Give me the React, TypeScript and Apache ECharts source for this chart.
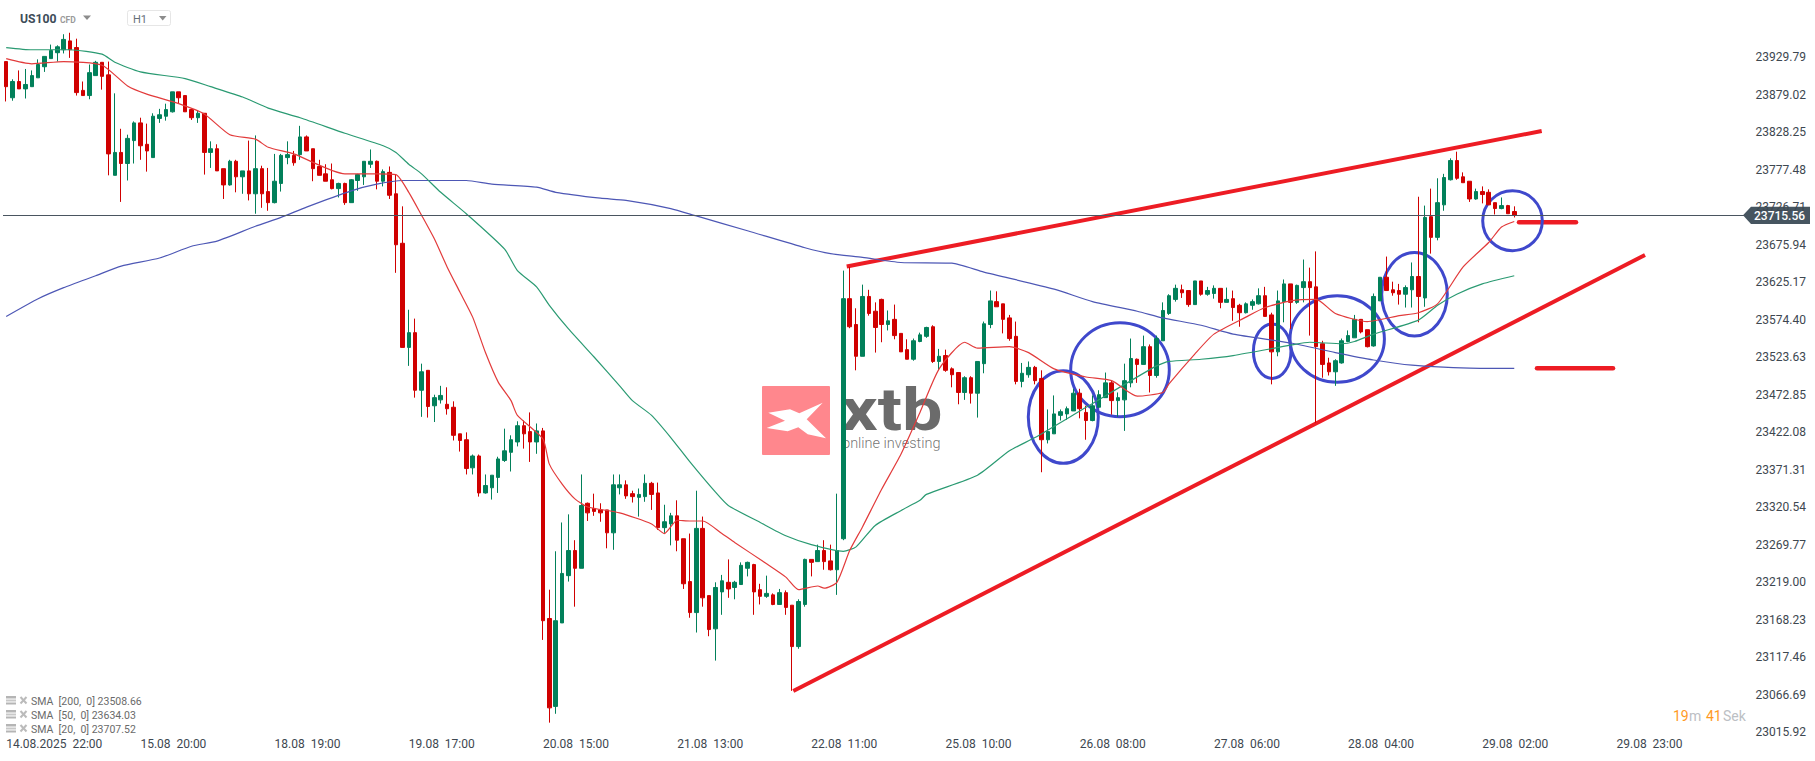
import React, { useEffect, useRef } from "react";
import * as echarts from "echarts";

const FONT = "Roboto";
const LAST_PRICE = 23715.56;
const FUTURE_SLOTS = 36;
const TICK_EVERY = 21;

const xTickLabels = [
  "14.08.2025  22:00", "15.08  20:00", "18.08  19:00", "19.08  17:00", "20.08  15:00",
  "21.08  13:00", "22.08  11:00", "25.08  10:00", "26.08  08:00", "27.08  06:00",
  "28.08  04:00", "29.08  02:00", "29.08  23:00",
];

const yTicks = [
  23929.79, 23879.02, 23828.25, 23777.48, 23726.71, 23675.94, 23625.17, 23574.4, 23523.63, 23472.85,
  23422.08, 23371.31, 23320.54, 23269.77, 23219.0, 23168.23, 23117.46, 23066.69, 23015.92,
];

// open, close, low, high
const ohlc = [
  [23924,23890,23870,23924],[23875,23897,23871,23900],[23897,23887,23887,23912],[23887,23893,23874,23914],
  [23890,23905,23890,23912],[23902,23920,23902,23927],[23917,23931,23910,23931],[23928,23939,23928,23947],
  [23936,23944,23924,23946],[23940,23954,23935,23961],[23952,23940,23929,23963],[23943,23882,23878,23955],
  [23885,23878,23878,23897],[23878,23909,23873,23920],[23905,23923,23905,23925],[23923,23904,23886,23923],
  [23906,23799,23770,23924],[23770,23801,23770,23881],[23801,23786,23734,23833],[23786,23820,23763,23825],
  [23817,23841,23786,23843],[23841,23810,23791,23848],[23812,23803,23775,23840],[23794,23850,23794,23854],
  [23847,23852,23841,23860],[23850,23859,23844,23867],[23856,23883,23855,23883],[23883,23875,23867,23883],
  [23878,23856,23856,23878],[23859,23848,23845,23860],[23848,23854,23841,23858],[23854,23801,23771,23854],
  [23801,23806,23780,23816],[23806,23776,23776,23812],[23779,23757,23738,23779],[23757,23789,23756,23791],
  [23789,23768,23747,23791],[23768,23776,23745,23776],[23776,23745,23736,23817],[23745,23779,23718,23824],
  [23779,23745,23726,23783],[23748,23733,23722,23780],[23733,23762,23732,23799],[23759,23797,23748,23799],
  [23794,23798,23785,23816],[23797,23787,23783,23803],[23798,23822,23791,23837],[23822,23803,23803,23824],
  [23806,23779,23762,23806],[23782,23770,23770,23791],[23772,23762,23762,23785],[23764,23752,23751,23786],
  [23752,23759,23740,23760],[23759,23733,23730,23760],[23733,23764,23733,23765],[23763,23771,23749,23772],
  [23768,23789,23757,23789],[23785,23789,23780,23805],[23789,23762,23751,23790],[23762,23775,23755,23778],
  [23774,23743,23738,23782],[23745,23676,23638,23771],[23678,23537,23537,23728],[23537,23557,23512,23588],
  [23557,23479,23469,23576],[23479,23504,23443,23515],[23506,23457,23442,23506],[23458,23469,23436,23473],
  [23466,23472,23461,23485],[23460,23454,23446,23483],[23456,23418,23411,23464],[23420,23411,23396,23420],
  [23412,23373,23365,23422],[23374,23390,23365,23392],[23390,23340,23335,23392],[23340,23350,23339,23365],
  [23347,23364,23331,23364],[23361,23386,23340,23389],[23384,23397,23382,23427],[23395,23412,23369,23418],
  [23409,23431,23403,23437],[23431,23420,23400,23438],[23423,23409,23382,23449],[23409,23424,23393,23434],
  [23424,23167,23141,23428],[23170,23049,23029,23209],[23051,23167,23041,23261],[23164,23231,23164,23300],
  [23228,23262,23220,23311],[23262,23238,23186,23276],[23238,23323,23238,23365],[23326,23313,23302,23327],
  [23319,23315,23309,23339],[23317,23313,23301,23326],[23317,23286,23265,23317],[23286,23351,23263,23365],
  [23347,23351,23338,23365],[23351,23336,23332,23357],[23339,23335,23327,23343],[23334,23338,23308,23346],
  [23335,23353,23328,23365],[23353,23338,23317,23355],[23340,23293,23290,23354],[23293,23301,23286,23324],
  [23298,23309,23269,23313],[23309,23276,23261,23330],[23278,23217,23210,23278],[23220,23178,23171,23285],
  [23178,23292,23151,23343],[23292,23198,23186,23308],[23201,23155,23146,23201],[23156,23212,23113,23219],
  [23206,23221,23175,23229],[23219,23210,23198,23250],[23212,23219,23196,23221],[23216,23242,23216,23246],
  [23238,23246,23227,23247],[23243,23206,23175,23244],[23209,23200,23189,23217],[23200,23204,23198,23228],
  [23202,23189,23188,23204],[23189,23205,23189,23210],[23205,23185,23175,23208],[23188,23132,23072,23188],
  [23132,23193,23129,23196],[23189,23250,23186,23251],[23250,23246,23227,23250],[23247,23262,23247,23270],
  [23262,23247,23236,23276],[23248,23236,23235,23270],[23236,23262,23202,23339],[23278,23603,23276,23641],
  [23603,23565,23563,23646],[23568,23525,23506,23590],[23525,23606,23525,23622],[23606,23583,23580,23615],
  [23586,23564,23530,23598],[23602,23568,23544,23603],[23568,23573,23560,23587],[23575,23553,23548,23595],
  [23556,23531,23531,23556],[23534,23521,23521,23548],[23521,23546,23519,23549],[23545,23554,23544,23557],
  [23552,23564,23550,23565],[23565,23518,23516,23567],[23518,23525,23506,23535],[23526,23506,23504,23534],
  [23508,23500,23483,23510],[23503,23476,23460,23503],[23476,23496,23466,23498],[23496,23475,23461,23498],
  [23475,23518,23442,23518],[23515,23569,23502,23572],[23568,23600,23563,23614],[23599,23592,23592,23613],
  [23596,23575,23556,23596],[23577,23549,23546,23581],[23552,23491,23487,23572],[23491,23502,23483,23516],
  [23500,23510,23496,23518],[23510,23492,23487,23512],[23495,23412,23368,23506],[23412,23423,23407,23453],
  [23420,23447,23420,23472],[23445,23450,23438,23453],[23447,23454,23439,23457],[23451,23475,23451,23481],
  [23475,23454,23441,23481],[23449,23438,23412,23458],[23438,23458,23437,23472],[23456,23473,23456,23479],
  [23469,23489,23469,23503],[23489,23465,23446,23492],[23465,23469,23443,23476],[23466,23492,23424,23515],
  [23489,23522,23483,23549],[23521,23514,23489,23522],[23514,23538,23514,23553],[23538,23499,23476,23541],
  [23499,23549,23496,23553],[23546,23587,23546,23598],[23583,23607,23581,23609],[23602,23617,23599,23622],
  [23615,23611,23604,23622],[23614,23595,23592,23614],[23595,23627,23595,23627],[23627,23609,23607,23627],
  [23609,23614,23607,23619],[23610,23617,23603,23621],[23617,23598,23590,23617],[23598,23602,23598,23618],
  [23603,23591,23573,23614],[23594,23584,23565,23596],[23584,23596,23583,23598],[23594,23599,23588,23602],
  [23596,23607,23595,23617],[23607,23579,23579,23619],[23581,23531,23487,23584],[23531,23600,23525,23614],
  [23599,23623,23571,23629],[23623,23598,23562,23623],[23598,23621,23596,23622],[23618,23626,23598,23656],
  [23626,23618,23553,23645],[23619,23538,23435,23667],[23542,23514,23496,23546],[23516,23504,23499,23523],
  [23504,23519,23485,23521],[23516,23546,23515,23549],[23545,23553,23544,23560],[23550,23575,23550,23581],
  [23575,23558,23556,23575],[23561,23538,23537,23561],[23539,23606,23538,23610],[23600,23632,23600,23632],
  [23632,23614,23614,23660],[23615,23611,23607,23626],[23614,23609,23595,23623],[23609,23618,23591,23621],
  [23615,23633,23591,23652],[23633,23606,23571,23741],[23604,23713,23592,23729],[23714,23686,23664,23752],
  [23686,23733,23682,23766],[23730,23767,23722,23772],[23764,23790,23763,23793],[23790,23766,23764,23802],
  [23768,23760,23760,23774],[23762,23738,23734,23762],[23738,23748,23737,23752],[23748,23744,23732,23755],
  [23747,23730,23730,23751],[23733,23725,23717,23733],[23725,23729,23724,23740],[23729,23718,23718,23730],
  [23721,23715.56,23713,23728],
];

// candle index, average value (read where the line bends)
const sma20 = [
  [0,23928],[4,23921],[9,23924],[15,23919],[19,23891],[22,23880],[27,23867],[31,23853],[35,23825],[39,23819],
  [41,23808],[45,23799],[53,23772],[58,23772],[61,23771],[63,23747],[65,23716],[67,23684],[69,23646],[71,23612],
  [73,23578],[75,23530],[77,23490],[79,23465],[80,23445],[84,23413],[85,23379],[87,23352],[89,23332],[91,23321],
  [96,23313],[101,23298],[103,23285],[105,23303],[107,23302],[109,23302],[112,23285],[114,23273],[119,23244],
  [122,23226],[124,23209],[127,23214],[128,23211],[130,23219],[132,23262],[134,23294],[137,23345],[140,23392],
  [143,23449],[146,23508],[150,23544],[152,23536],[157,23538],[160,23530],[164,23508],[169,23497],[173,23492],
  [177,23471],[181,23476],[182,23488],[186,23528],[189,23555],[194,23578],[197,23591],[201,23600],[205,23602],
  [208,23583],[213,23572],[218,23580],[221,23584],[224,23596],[228,23646],[232,23679],[234,23700],[236,23707.52],
];
const sma50 = [
  [0,23943],[4,23940],[10,23940],[15,23934],[17,23923],[21,23910],[28,23901],[32,23890],[37,23876],[41,23861],
  [46,23848],[53,23827],[59,23810],[61,23801],[63,23785],[65,23772],[68,23747],[72,23718],[78,23670],[80,23641],
  [83,23619],[85,23594],[88,23562],[92,23524],[96,23485],[98,23465],[101,23445],[104,23415],[107,23382],[111,23341],
  [113,23323],[118,23300],[122,23282],[126,23270],[131,23261],[133,23267],[136,23296],[140,23316],[143,23330],
  [144,23338],[152,23364],[157,23397],[161,23415],[169,23456],[180,23512],[182,23518],[187,23521],[192,23526],
  [201,23540],[204,23544],[209,23542],[211,23545],[214,23555],[221,23574],[224,23594],[227,23609],[231,23623],
  [236,23634.03],
];
const sma200 = [
  [0,23579],[5,23603],[9,23618],[14,23634],[18,23647],[24,23658],[29,23674],[33,23681],[39,23701],[43,23713],
  [47,23727],[54,23749],[58,23758],
  [62,23763],[72,23763],[76,23758],[83,23754],[86,23747],[93,23739],[97,23736],[104,23725],[108,23715],[116,23695],
  [125,23672],[129,23664],[134,23659],[140,23652],[148,23651],[153,23639],[164,23616],[170,23599],[177,23586],
  [181,23577],[187,23567],[192,23555],[201,23543],[208,23530],[214,23520],[220,23513],[229,23509],[236,23508.66],
];

const legendRows = ["SMA  [200,  0] 23508.66", "SMA  [50,  0] 23634.03", "SMA  [20,  0] 23707.52"];

const categories = Array.from({ length: ohlc.length + FUTURE_SLOTS }, (_, i) => String(i));

const RED = "#d00000";
const GREEN = "#02805a";
const PAINT_RED = "#ed1c24";
const PAINT_BLUE = "#3f48cc";
const LABEL = "#3d4750";

function txt(text: string, x: number, y: number, size: number, fill: string, weight: any = "normal", extra: any = {}) {
  return {
    type: "text", x, y, silent: true, ...extra,
    style: { text, fontSize: size, fontFamily: FONT, fontWeight: weight, fill, verticalAlign: "middle", align: "left" },
  };
}
function stroke(x1: number, y1: number, x2: number, y2: number, width: number, color: string, cap = "butt") {
  return {
    type: "line", silent: true,
    shape: { x1, y1, x2, y2 },
    style: { stroke: color, lineWidth: width, lineCap: cap },
  };
}
function oval(cx: number, cy: number, rx: number, ry: number) {
  return {
    type: "ellipse", silent: true,
    shape: { cx, cy, rx, ry },
    style: { fill: "none", stroke: PAINT_BLUE, lineWidth: 3 },
  };
}

function overlay(): any[] {
  const els: any[] = [];
  // watermark
  els.push({ type: "rect", silent: true, shape: { x: 762, y: 386, width: 184, height: 69 }, style: { fill: "rgba(255,255,255,0.6)" } });
  els.push({ type: "rect", silent: true, shape: { x: 762, y: 386, width: 68, height: 69, r: 1 }, style: { fill: "#ff878d" } });
  els.push({
    type: "polygon", silent: true,
    shape: { points: [[768.3,412.7],[790,409.3],[799.3,413.3],[822.7,402.7],[806.7,419.3],[826,438.3],[807.7,434.3],[798.3,427.3],[787.7,431.3],[766.7,428],[785,420.7]] },
    style: { fill: "#ffffff" },
  });
  els.push(txt("xtb", 841, 410, 60, "rgba(70,70,70,0.8)", "bold", { scaleX: 1.2 }));
  els.push(txt("online investing", 842, 443, 14.5, "rgba(90,90,90,0.85)", 300));
  // hand-drawn lines
  els.push(stroke(846.7, 266.5, 1541.7, 131, 4, PAINT_RED));
  els.push(stroke(793.3, 691, 1645, 255, 4, PAINT_RED));
  els.push(stroke(1519, 222.3, 1576, 222.3, 4.5, PAINT_RED, "round"));
  els.push(stroke(1537, 368.3, 1613, 368.3, 4.5, PAINT_RED, "round"));
  // ovals
  els.push(oval(1063.3, 417, 35, 46.3));
  els.push(oval(1120, 369.7, 49.3, 47));
  els.push(oval(1272.2, 351.2, 18.8, 27.2));
  els.push(oval(1337.2, 339, 47.2, 43.3));
  els.push(oval(1414.5, 294.3, 32.8, 41.7));
  els.push(oval(1512.5, 220.7, 29.8, 30));
  // header
  els.push(txt("US100", 20, 18.5, 12.2, "#3e4c59", "bold"));
  els.push(txt("CFD", 60, 19.5, 8.5, "#9a9a9a", "bold"));
  els.push({ type: "polygon", silent: true, shape: { points: [[83, 15.5], [91, 15.5], [87, 20]] }, style: { fill: "#8c8c8c" } });
  els.push({ type: "rect", silent: true, shape: { x: 127.5, y: 10.5, width: 43, height: 15, r: 2 }, style: { fill: "#fff", stroke: "#e6e6e6", lineWidth: 1 } });
  els.push(txt("H1", 133, 19.5, 11, "#666f78"));
  els.push({ type: "polygon", silent: true, shape: { points: [[159, 16], [166.5, 16], [162.7, 20.5]] }, style: { fill: "#8c8c8c" } });
  // indicator legend
  legendRows.forEach((row, i) => {
    const y = 701 + i * 14;
    els.push({ type: "rect", silent: true, shape: { x: 6, y: y - 5, width: 10, height: 2.5 }, style: { fill: "#b5b5b5" } });
    els.push({ type: "rect", silent: true, shape: { x: 6, y: y - 1.5, width: 10, height: 2 }, style: { fill: "#c8c8c8" } });
    els.push({ type: "rect", silent: true, shape: { x: 6, y: y + 1.5, width: 10, height: 2 }, style: { fill: "#b5b5b5" } });
    els.push(stroke(20.5, y - 4, 26.5, y + 2.5, 2, "#bbbbbb"));
    els.push(stroke(26.5, y - 4, 20.5, y + 2.5, 2, "#bbbbbb"));
    els.push(txt(row, 31, y + 0.5, 10.5, "#6a6a6a"));
  });
  // countdown
  els.push(txt("19", 1673, 716, 14, "#ff9a1f"));
  els.push(txt("m", 1689, 716, 14, "#bcc0c4"));
  els.push(txt("41", 1706, 716, 14, "#ff9a1f"));
  els.push(txt("Sek", 1723, 716, 14, "#bcc0c4"));
  // last price tag
  els.push({
    type: "polygon", silent: true,
    shape: { points: [[1743, 215.2], [1751, 206.7], [1810, 206.7], [1810, 224], [1751, 224]] },
    style: { fill: "#465560" },
  });
  els.push(txt(LAST_PRICE.toFixed(2), 1754, 216, 12, "#ffffff", 500));
  return els;
}

export default function App() {
  const ref = useRef<HTMLDivElement>(null);
  useEffect(() => {
    document.body.style.margin = "0";
    const chart = echarts.init(ref.current!, null, { renderer: "svg" });
    const line = (name: string, data: number[][], color: string) => ({
      name, type: "line", data, symbol: "none", z: 3, silent: true, smooth: 0.2,
      lineStyle: { color, width: 1.2 }, itemStyle: { color },
    });
    chart.setOption({
      animation: false,
      backgroundColor: "#ffffff",
      textStyle: { fontFamily: FONT },
      grid: { left: 3, top: 0, width: 1744.5, height: 740, containLabel: false },
      xAxis: {
        type: "category",
        data: categories,
        boundaryGap: true,
        axisLine: { show: false },
        axisTick: { show: false },
        splitLine: { show: false },
        axisLabel: {
          interval: (i: number) => i % TICK_EVERY === 0,
          formatter: (_: string, i: number) => xTickLabels[i / TICK_EVERY] ?? "",
          align: "left",
          margin: -2,
          fontSize: 12,
          fontFamily: FONT,
          color: LABEL,
          hideOverlap: false,
        },
      },
      yAxis: {
        type: "value",
        position: "right",
        min: 23005.5,
        max: 24007.36,
        scale: true,
        axisLine: { show: false },
        axisTick: { show: false },
        splitLine: { show: false },
        axisLabel: {
          customValues: yTicks,
          formatter: (v: number) => v.toFixed(2),
          margin: 8,
          fontSize: 12,
          fontFamily: FONT,
          color: LABEL,
        },
      },
      graphic: { elements: overlay() },
      series: [
        {
          name: "US100",
          type: "candlestick",
          data: ohlc,
          barWidth: 4,
          itemStyle: { color: GREEN, color0: RED, borderColor: GREEN, borderColor0: RED, borderWidth: 1 },
          markLine: {
            silent: true,
            symbol: "none",
            label: { show: false },
            lineStyle: { color: "#4a5560", width: 1, type: "solid" },
            data: [{ yAxis: LAST_PRICE }],
          },
        },
        line("SMA 200", sma200, "#4d57b5"),
        line("SMA 50", sma50, "#2a9a72"),
        line("SMA 20", sma20, "#e23b3b"),
      ],
    });
    return () => chart.dispose();
  }, []);
  return <div ref={ref} style={{ position: "fixed", left: 0, top: 0, width: 1815, height: 761 }} />;
}
